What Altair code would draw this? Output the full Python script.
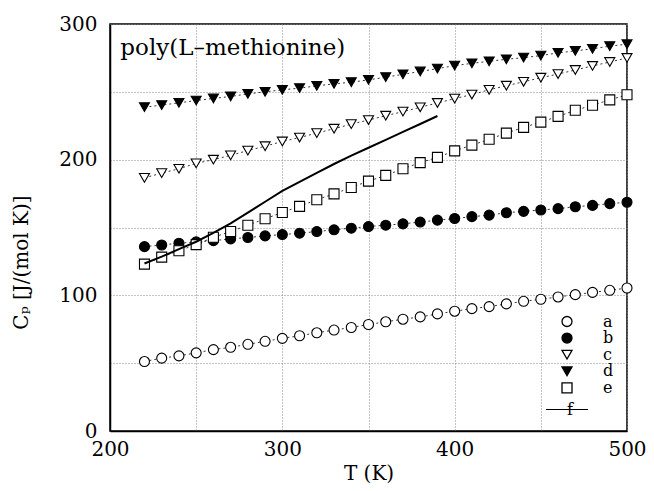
import altair as alt
import pandas as pd

# ---- data ----
T = [220, 230, 240, 250, 260, 270, 280, 290, 300, 310, 320, 330, 340, 350, 360,
     370, 380, 390, 400, 410, 420, 430, 440, 450, 460, 470, 480, 490, 500]

a = [51.2, 53.7, 55.4, 57.6, 60.0, 61.7, 63.9, 66.1, 68.3, 70.2, 72.4, 74.4, 76.3,
     78.5, 80.5, 82.4, 84.1, 86.3, 88.3, 90.2, 91.7, 93.7, 95.6, 97.1, 98.8, 100.5,
     102.2, 103.7, 105.4]
b = [135.9, 137.1, 138.4, 139.4, 140.3, 141.6, 142.6, 143.8, 144.8, 145.8, 147.0,
     148.3, 149.5, 150.7, 151.7, 152.7, 154.0, 155.4, 156.6, 158.0, 159.1, 160.9,
     161.9, 162.9, 163.9, 165.3, 166.3, 167.6, 168.6]
c = [186.6, 190.1, 193.3, 197.3, 200.0, 203.2, 206.7, 209.9, 213.4, 216.3, 219.6,
     222.8, 226.2, 229.2, 232.4, 235.4, 238.6, 241.8, 245.0, 248.0, 251.5, 254.5,
     257.4, 260.4, 263.1, 266.1, 269.1, 272.0, 275.0]
d = [238.7, 240.2, 241.9, 243.6, 245.1, 246.6, 248.5, 250.0, 251.5, 252.7, 254.4,
     255.9, 257.1, 258.8, 260.8, 262.9, 265.0, 267.1, 269.3, 271.0, 272.5, 274.0,
     275.2, 276.7, 278.7, 280.2, 281.7, 283.7, 285.1]
e = [123.0, 128.2, 132.9, 137.4, 142.8, 147.0, 151.7, 156.4, 161.1, 165.6, 170.5,
     174.8, 179.5, 184.2, 188.4, 193.3, 197.8, 201.7, 206.5, 210.7, 215.0, 219.6,
     223.8, 227.7, 231.9, 236.4, 240.1, 244.1, 247.8]

f_T = [220, 230, 240, 250, 260, 270, 280, 290, 300, 310, 320, 330, 340, 350, 360,
       370, 380, 390]
f = [123.5, 128.5, 134.0, 139.5, 146.0, 153.0, 161.0, 169.0, 177.0, 183.6, 190.2,
     196.8, 203.0, 208.8, 214.6, 220.5, 226.3, 232.2]

point_series = ["a", "b", "c", "d", "e"]
point_shapes = ["circle", "circle", "triangle-down", "triangle-down", "square"]
point_fills = ["white", "black", "white", "black", "white"]
point_strokes = ["black", "black", "black", "black", "black"]
point_sizes = [100, 100, 85, 85, 75]
line_series = ["f"]

label_text = ["poly(L\u2013methionine)"]
label_T = [206.0]
label_Cp = [282.3]

x_ticks = [200, 250, 300, 350, 400, 450, 500]
y_ticks = [0, 50, 100, 150, 200, 250, 300]

# ---- tables ----
rows = []
for name, vals in zip(point_series, [a, b, c, d, e]):
    for t, v in zip(T, vals):
        rows.append({"T": t, "Cp": v, "series": name})
pts = pd.DataFrame(rows)
fdf = pd.DataFrame({"T": f_T, "Cp": f, "curve": line_series * len(f_T)})
lab = pd.DataFrame({"T": label_T, "Cp": label_Cp, "txt": label_text})

FONT = "DejaVu Serif"

xs = alt.Scale(domain=[200, 500], nice=False, zero=False)
ys = alt.Scale(domain=[0, 300], nice=False, zero=False)

x_axis = alt.Axis(values=x_ticks,
                  labelExpr="datum.value % 100 == 0 ? datum.label : ''",
                  title="T (K)", ticks=False, labelPadding=8, titlePadding=4,
                  labelFlush=False, grid=True)
y_axis = alt.Axis(values=y_ticks,
                  labelExpr="datum.value % 100 == 0 ? datum.label : ''",
                  title="C\u209a [J/(mol K)]", ticks=False, labelPadding=13,
                  titlePadding=27, titleY=238, labelFlush=False, grid=True)

X = alt.X("T:Q", scale=xs, axis=x_axis)
Y = alt.Y("Cp:Q", scale=ys, axis=y_axis)

leg_pts = alt.Legend(title=None, orient="none", legendX=449, legendY=289.5,
                     labelFont=FONT, labelFontSize=16, labelOffset=28,
                     rowPadding=0.6, padding=0,
                     symbolStrokeColor="black", symbolStrokeWidth=1.3)
leg_line = alt.Legend(title=None, orient="none", legendX=457, legendY=385.5,
                      labelFont=FONT, labelFontSize=16, labelOffset=17,
                      labelExpr="'\u00a0\u00a0\u00a0\u00a0\u00a0\u00a0\u00a0' + datum.label",
                      padding=0, symbolType="stroke", symbolSize=1764,
                      symbolStrokeColor="black", symbolStrokeWidth=2)

lines = alt.Chart(pts).mark_line(strokeDash=[2, 3], strokeWidth=0.8, color="black").encode(
    x=X, y=Y, detail="series:N"
)

points = alt.Chart(pts).mark_point(filled=False, opacity=1,
                                   strokeWidth=1.1, fillOpacity=1, strokeOpacity=1).encode(
    x=X, y=Y,
    shape=alt.Shape("series:N", scale=alt.Scale(domain=point_series, range=point_shapes), legend=leg_pts),
    fill=alt.Fill("series:N", scale=alt.Scale(domain=point_series, range=point_fills), legend=leg_pts),
    stroke=alt.Stroke("series:N", scale=alt.Scale(domain=point_series, range=point_strokes), legend=leg_pts),
    size=alt.Size("series:N", scale=alt.Scale(domain=point_series, range=point_sizes), legend=leg_pts),
)

fline = alt.Chart(fdf).mark_line(color="black", strokeWidth=2).encode(
    x=X, y=Y,
    strokeWidth=alt.StrokeWidth("curve:N", scale=alt.Scale(domain=line_series, range=[2]),
                                legend=leg_line),
)

label = alt.Chart(lab).mark_text(align="left", baseline="middle", font=FONT,
                                 fontSize=23, color="black").encode(
    x=X, y=Y, text="txt:N")

chart = alt.layer(lines, points, fline, label).properties(
    width=517, height=407,
    autosize=alt.AutoSizeParams(type="none"),
    padding={"left": 102, "top": 16, "right": 19, "bottom": 52},
).configure_view(
    stroke="black", strokeWidth=1.5
).configure_axis(
    labelFont=FONT, labelFontSize=20, labelColor="black",
    titleFont=FONT, titleFontSize=20, titleFontWeight="normal", titleColor="black",
    domainColor="black", domainWidth=1.5,
    gridColor="#888888", gridDash=[1, 2], gridWidth=1,
)

chart.save("out.html", embed_options={"renderer": "svg", "actions": False})
